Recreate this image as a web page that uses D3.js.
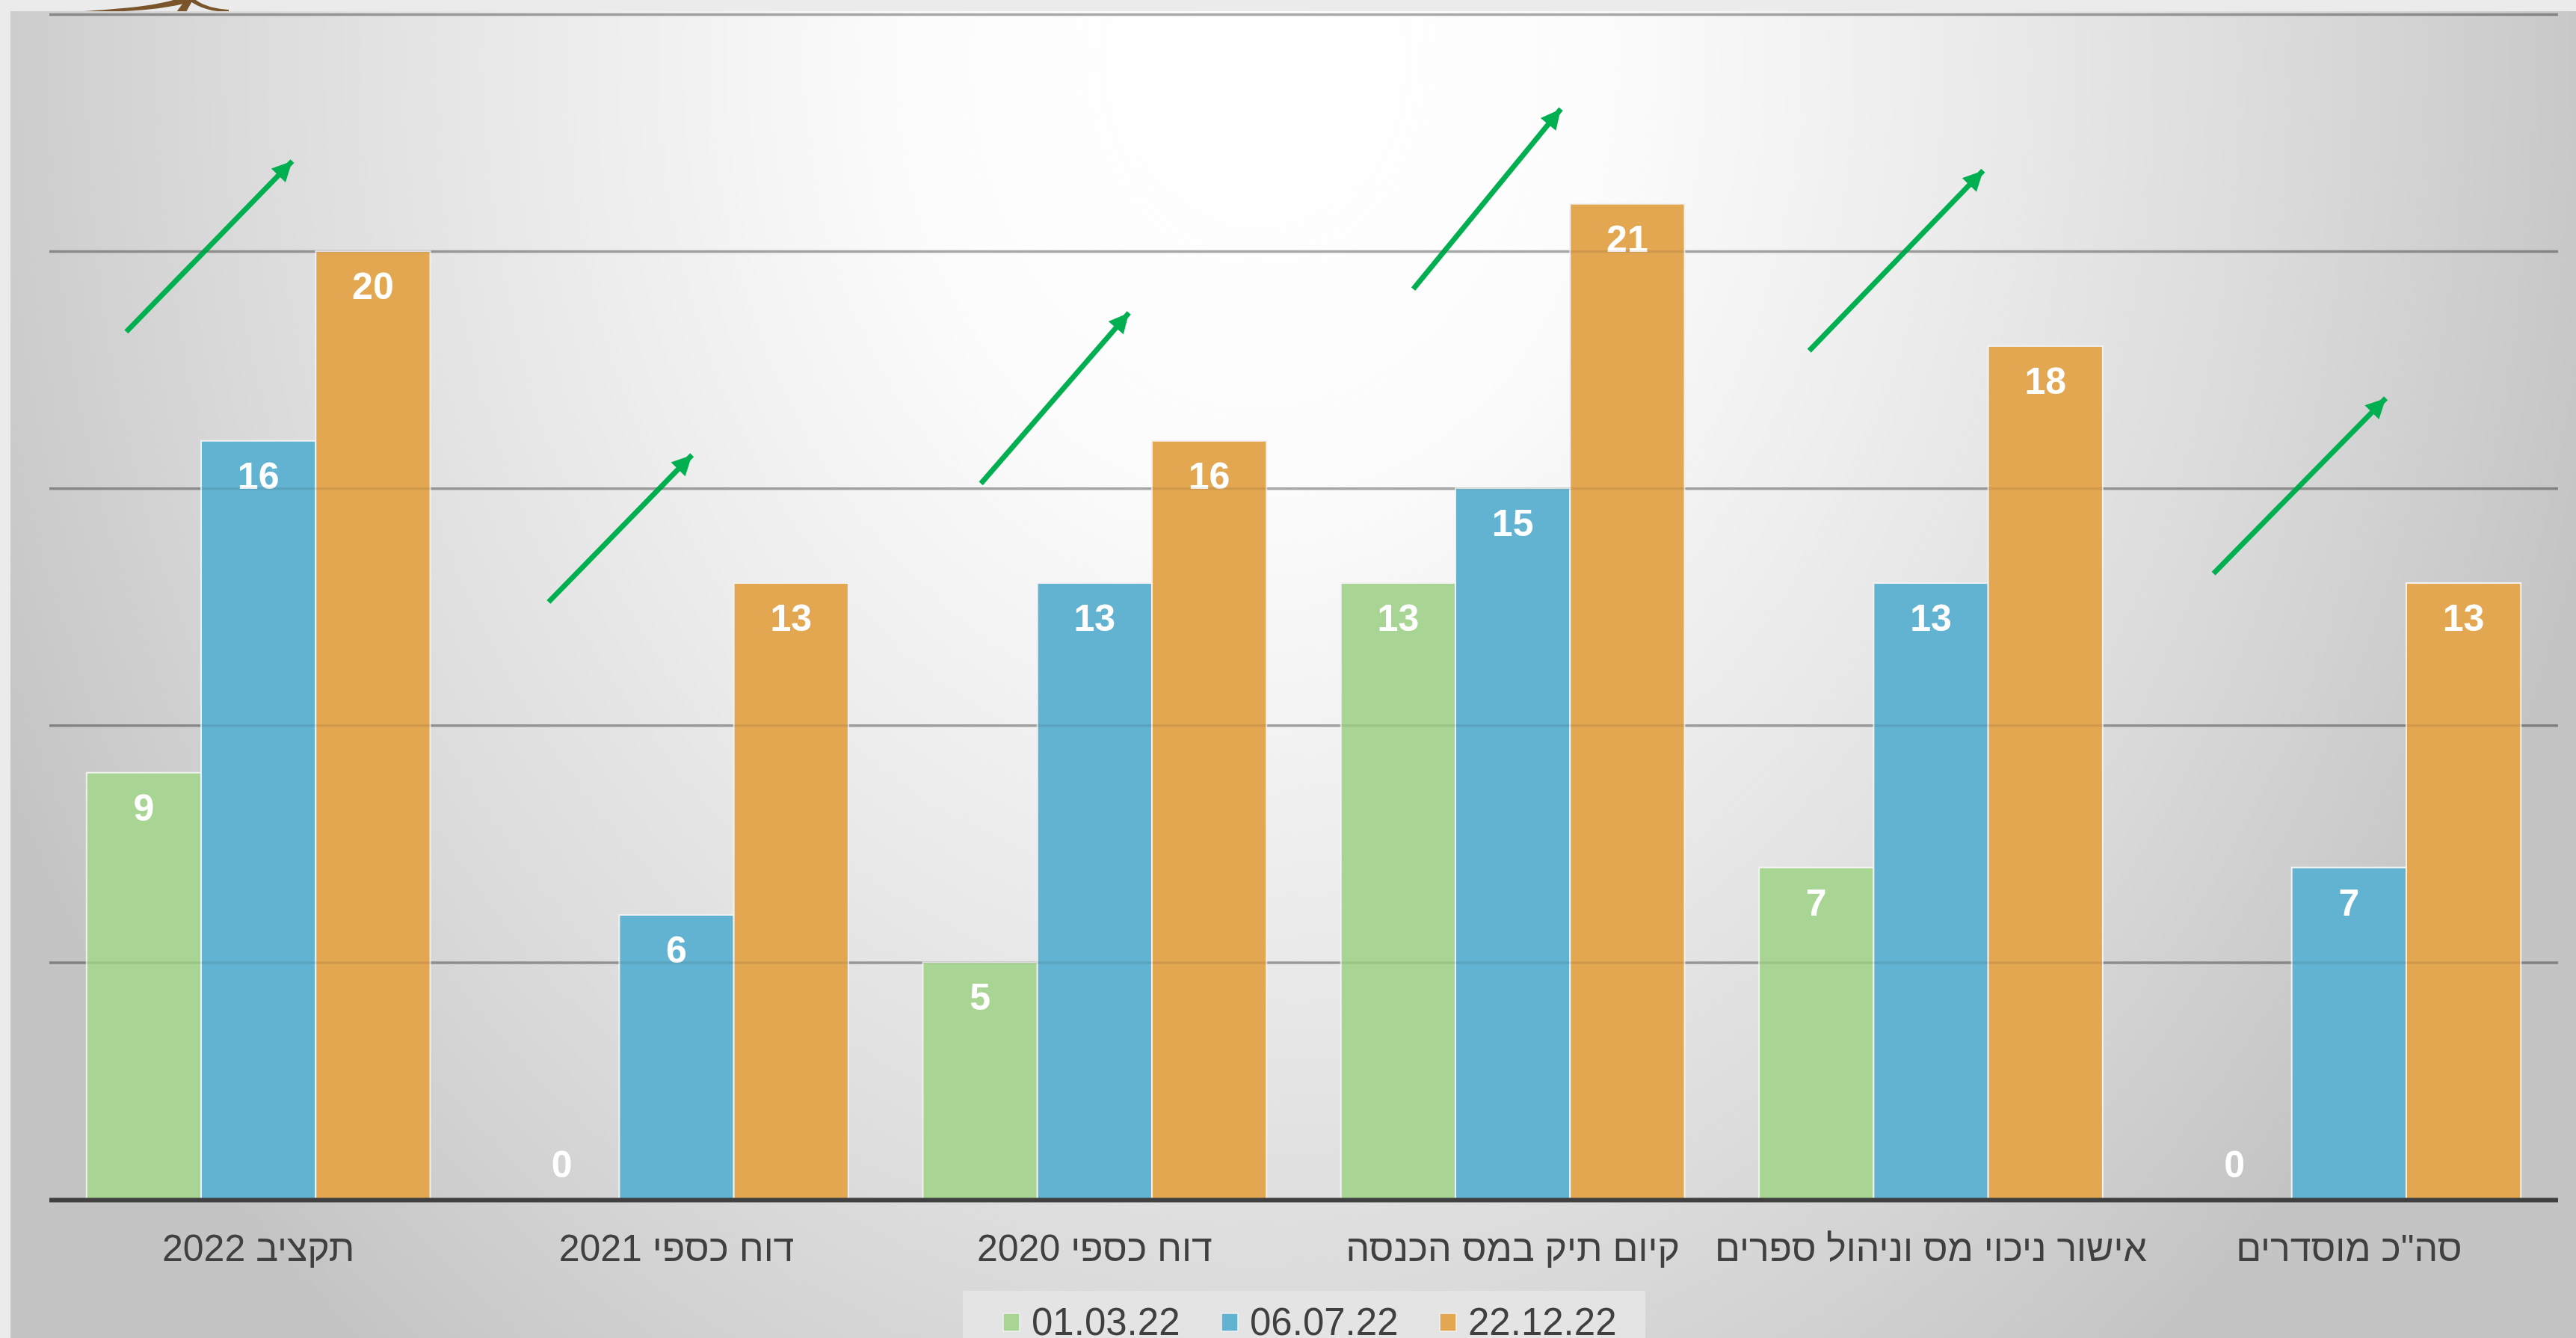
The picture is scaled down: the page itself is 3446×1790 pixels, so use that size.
<!DOCTYPE html>
<html lang="he">
<head>
<meta charset="utf-8">
<title>סטטוס הסדרה</title>
<script src="https://cdn.jsdelivr.net/npm/d3@7"></script>
<style>
    body { margin: 0; background: #ebebeb; overflow: hidden; }
    #chart-area { width: 3446px; height: 1790px; }
    text { font-family: "Liberation Sans", Arial, sans-serif; }
</style>
</head>
<body>
<div id="chart-area"></div>
<script>

// Categories as they appear left to right
const categories = ["תקציב 2022", "דוח כספי 2021", "דוח כספי 2020", "קיום תיק במס הכנסה", "אישור ניכוי מס וניהול ספרים", "סה\"כ מוסדרים"];

// Series (dates of the snapshots)
const seriesNames = ["01.03.22", "06.07.22", "22.12.22"];
const march = [9, 0, 5, 13, 7, 0];
const july = [16, 6, 13, 15, 13, 7];
const december = [20, 13, 16, 21, 18, 13];

// Gridline values (no tick labels shown on the chart)
const gridTicks = [5, 10, 15, 20, 25];

// Green "growth" arrows per category: [start fraction of band, start value, end fraction, end value]
const arrowStart = [[0.184, 18.3], [0.194, 12.6], [0.228, 15.1], [0.262, 19.2], [0.209, 17.9], [0.176, 13.2]];
const arrowEnd = [[0.581, 21.9], [0.537, 15.7], [0.582, 18.7], [0.615, 23.0], [0.625, 21.7], [0.588, 16.9]];


class GroupedBarChart {
    constructor(parentElement) {
        this.parentElement = parentElement;
        this.initVis();
    }

    initVis() {
        let vis = this;

        vis.fullWidth = 3446;
        vis.fullHeight = 1790;

        vis.svg = d3.select("#" + vis.parentElement)
            .append("svg")
            .attr("width", vis.fullWidth)
            .attr("height", vis.fullHeight);

        let defs = vis.svg.append("defs");

        // soft light spot near the top middle, grey towards the edges (elliptical)
        let grad = defs.append("radialGradient")
            .attr("id", "panel-bg")
            .attr("gradientUnits", "userSpaceOnUse")
            .attr("cx", 1680).attr("cy", 80).attr("r", 1850)
            .attr("gradientTransform", "translate(1680,80) scale(1,1.22) translate(-1680,-80)");
        [[0, "#ffffff"], [0.25, "#fcfcfc"], [0.5, "#ececec"], [0.75, "#dadada"], [0.9, "#cdcdcd"], [1, "#c4c4c4"]]
            .forEach(s => grad.append("stop").attr("offset", s[0]).attr("stop-color", s[1]));

        defs.append("marker")
            .attr("id", "arrow-head")
            .attr("viewBox", "0 0 10 10")
            .attr("refX", 10).attr("refY", 5)
            .attr("markerWidth", 4.6).attr("markerHeight", 3.8)
            .attr("orient", "auto")
            .append("path")
            .attr("d", "M0,0 L10,5 L0,10 Z")
            .attr("fill", "#00b050");

        // little piece of the slide logo sticking out above the panel
        vis.svg.append("path")
            .attr("d", "M111,15 C160,12 205,8 232,0 L262,0 C238,9 200,14 150,16 Z")
            .attr("fill", "#7a552c");
        vis.svg.append("path")
            .attr("d", "M262,0 C272,8 290,12 306,13 L306,16 C284,16 266,10 252,0 Z M236,16 L248,0 L258,0 L249,16 Z")
            .attr("fill", "#7a552c");

        // panel
        vis.svg.append("rect")
            .attr("x", 14).attr("y", 15)
            .attr("width", vis.fullWidth - 14)
            .attr("height", vis.fullHeight - 15)
            .attr("fill", "url(#panel-bg)");

        vis.x0 = d3.scaleBand()
            .domain(categories)
            .range([66, 3422])
            .paddingInner(0.178)
            .paddingOuter(0.089);

        vis.x1 = d3.scaleBand()
            .domain(seriesNames)
            .range([0, vis.x0.bandwidth()]);

        vis.y = d3.scaleLinear()
            .domain([0, 25])
            .range([1604.5, 19]);

        vis.color = d3.scaleOrdinal()
            .domain(seriesNames)
            .range(["#a9d594", "#62b2d1", "#e3a752"]);

        vis.wrangleData();
    }

    wrangleData() {
        let vis = this;

        let values = [march, july, december];
        vis.groups = categories.map((cat, i) => ({
            category: cat,
            bars: seriesNames.map((s, j) => ({ category: cat, series: s, value: values[j][i] })),
            arrow: { from: arrowStart[i], to: arrowEnd[i] }
        }));

        vis.updateVis();
    }

    drawGrid(opacity) {
        let vis = this;
        vis.svg.append("g")
            .attr("class", "grid")
            .attr("transform", "translate(66,0)")
            .call(d3.axisLeft(vis.y).tickValues(gridTicks).tickSize(-(3422 - 66)).tickFormat(""))
            .call(g => g.select(".domain").remove())
            .call(g => g.selectAll(".tick line")
                .attr("stroke", "#000000")
                .attr("stroke-opacity", opacity)
                .attr("stroke-width", 3.5));
    }

    updateVis() {
        let vis = this;

        // gridlines behind the bars
        vis.drawGrid(0.28);

        let group = vis.svg.selectAll(".group")
            .data(vis.groups)
            .enter()
            .append("g")
            .attr("class", "group")
            .attr("transform", d => `translate(${vis.x0(d.category)},0)`);

        group.selectAll(".bar")
            .data(d => d.bars.filter(b => b.value > 0))
            .enter()
            .append("rect")
            .attr("class", "bar")
            .attr("x", d => vis.x1(d.series))
            .attr("y", d => vis.y(d.value))
            .attr("width", vis.x1.bandwidth())
            .attr("height", d => vis.y(0) - vis.y(d.value))
            .attr("fill", d => vis.color(d.series))
            .attr("stroke", "#f1f1f1")
            .attr("stroke-width", 2);

        // gridlines faintly visible through the bars
        vis.drawGrid(0.08);

        // baseline
        vis.svg.append("line")
            .attr("x1", 66).attr("x2", 3422)
            .attr("y1", vis.y(0) + 1).attr("y2", vis.y(0) + 1)
            .attr("stroke", "#404040")
            .attr("stroke-width", 6);

        // value labels, inside end of the bar (zero sits on the baseline)
        group.selectAll(".bar-label")
            .data(d => d.bars)
            .enter()
            .append("text")
            .attr("class", "bar-label")
            .attr("text-anchor", "middle")
            .attr("x", d => vis.x1(d.series) + vis.x1.bandwidth() / 2)
            .attr("y", d => d.value > 0 ? vis.y(d.value) + 64 : vis.y(0) - 30)
            .attr("fill", "#ffffff")
            .style("font-size", "50px")
            .style("font-weight", "bold")
            .text(d => d.value);

        // arrows
        let step = vis.x0.step();
        group.append("line")
            .attr("class", "trend-arrow")
            .attr("x1", d => d.arrow.from[0] * step - vis.x0.paddingOuter() * step)
            .attr("y1", d => vis.y(d.arrow.from[1]))
            .attr("x2", d => d.arrow.to[0] * step - vis.x0.paddingOuter() * step)
            .attr("y2", d => vis.y(d.arrow.to[1]))
            .attr("stroke", "#00b050")
            .attr("stroke-width", 7)
            .attr("marker-end", "url(#arrow-head)");

        // category labels
        vis.svg.append("g")
            .attr("class", "x-axis")
            .selectAll("text")
            .data(categories)
            .enter()
            .append("text")
            .attr("x", d => vis.x0(d) + vis.x0.bandwidth() / 2)
            .attr("y", 1687)
            .attr("text-anchor", "middle")
            .attr("direction", "rtl")
            .attr("fill", "#404040")
            .style("font-size", "50px")
            .text(d => d);

        // legend
        let legend = vis.svg.append("g").attr("class", "legend");
        legend.append("rect")
            .attr("x", 1288).attr("y", 1727)
            .attr("width", 913).attr("height", 80)
            .attr("fill", "#e4e4e4");

        seriesNames.forEach((s, i) => {
            let lx = 1342 + i * 292;
            legend.append("rect")
                .attr("x", lx).attr("y", 1757)
                .attr("width", 22).attr("height", 24)
                .attr("fill", vis.color(s))
                .attr("stroke", "#f1f1f1")
                .attr("stroke-width", 1.5);
            legend.append("text")
                .attr("x", lx + 38).attr("y", 1786)
                .attr("fill", "#404040")
                .style("font-size", "51px")
                .text(s);
        });
    }
}

new GroupedBarChart("chart-area");

</script>
</body>
</html>
